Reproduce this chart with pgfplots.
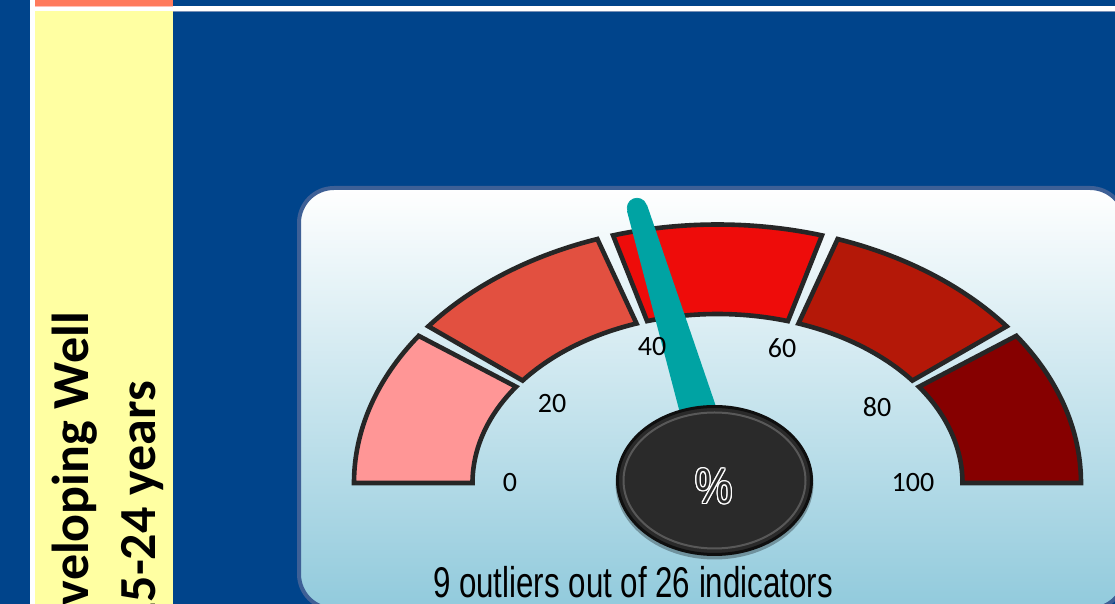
\documentclass[border=0pt]{standalone}
\usepackage{fontspec}
\usepackage{graphicx}
\usepackage{pgfplots}
\pgfplotsset{compat=1.18}
\usepackage{contour}
\newfontfamily\carlito{Carlito}
\newfontfamily\libsans{Liberation Sans}
\definecolor{bgblue}{RGB}{0,68,139}
\definecolor{salmon}{RGB}{255,122,92}
\definecolor{pinkline}{RGB}{255,190,180}
\definecolor{yellowbox}{RGB}{255,255,162}
\definecolor{panelborder}{RGB}{62,96,150}
\definecolor{panelbot}{RGB}{145,202,220}
\definecolor{segline}{RGB}{38,38,38}
\definecolor{segA}{RGB}{255,150,150}
\definecolor{segB}{RGB}{226,80,64}
\definecolor{segC}{RGB}{238,12,10}
\definecolor{segD}{RGB}{180,24,8}
\definecolor{segE}{RGB}{134,0,0}
\definecolor{needle}{RGB}{0,163,163}
\definecolor{knob}{RGB}{42,42,42}
\definecolor{knobline}{RGB}{15,15,15}
% gauge segment: #1 from value, #2 to value, #3 start gap, #4 end gap, #5 colour
\newcommand\seg[5]{%
  \filldraw[fill=#5, draw=segline, line width=2.3pt, line join=miter]
    (axis cs:717.5,121) ++({180-1.8*#1-#3}:181.75pt and 129.25pt)
    arc[start angle={180-1.8*#1-#3}, end angle={180-1.8*#2+#4}, x radius=181.75pt, y radius=129.25pt]
    -- ++({180-1.8*#2+#4}:-59.25pt and -44.75pt)
    arc[start angle={180-1.8*#2+#4}, end angle={180-1.8*#1-#3}, x radius=122.5pt, y radius=84.5pt]
    -- cycle;}
\contourlength{0.6pt}
\begin{document}
\begin{tikzpicture}
\useasboundingbox (0,0) rectangle (557.5pt,302pt);
\begin{axis}[scale only axis, width=557.5pt, height=302pt,
  xmin=0, xmax=1115, ymin=0, ymax=604, hide axis, clip=true]
% slide background
\fill[bgblue] (axis cs:-5,-5) rectangle (axis cs:1120,610);
\fill[white] (axis cs:30,-5) rectangle (axis cs:35,610);
\fill[salmon] (axis cs:35,598) rectangle (axis cs:173,610);
\fill[pinkline] (axis cs:35,597) rectangle (axis cs:173,598);
\fill[white] (axis cs:173,593) rectangle (axis cs:1120,598);
\fill[white] (axis cs:35,593) rectangle (axis cs:173,597);
\fill[panelborder!70!white] (axis cs:173,592) rectangle (axis cs:1120,593);
\fill[yellowbox] (axis cs:35,-5) rectangle (axis cs:173,593);
\node[rotate=90, anchor=base east, font=\carlito\bfseries\fontsize{26pt}{30pt}\selectfont]
  at (axis cs:88,299) {Developing Well};
\node[rotate=90, anchor=base east, font=\carlito\bfseries\fontsize{26pt}{30pt}\selectfont]
  at (axis cs:155,230) {15-24 years};
% panel
\draw[line width=2pt, draw=panelborder, rounded corners=17.5pt, top color=white, bottom color=panelbot]
  (axis cs:299,-5) rectangle (axis cs:1125,416);
% gauge bands (0-20-40-60-80-100)
\seg{0}{20}{0}{1.3}{segA}
\seg{20}{40}{1.3}{1.3}{segB}
\seg{40}{60}{1.3}{1.3}{segC}
\seg{60}{80}{1.3}{1.3}{segD}
\seg{80}{100}{1.3}{0}{segE}
% scale labels
\addplot[only marks, mark=none, nodes near coords, point meta=explicit symbolic,
  every node near coord/.style={anchor=center, font=\carlito\fontsize{14pt}{16pt}\selectfont, text=black}]
  coordinates {(510,121)[0] (552,200)[20] (652,257)[40] (782,256)[60] (877,197)[80] (913,121)[100]};
% needle
\addplot[fill=needle, draw=none] coordinates
  {(647.0,399.1) (627.0,392.9) (699.9,114.9) (740.1,127.1)} -- cycle;
\addplot[only marks, mark=*, mark size=4.9pt, mark options={fill=needle, draw=needle, line width=0.3pt}]
  coordinates {(637,396)};
% knob
\fill[black, opacity=0.3] (axis cs:714.5,120.5) ellipse[x radius=49.5pt, y radius=38pt];
\filldraw[fill=knob, draw=knobline, line width=1.5pt] (axis cs:714.5,123.5) ellipse[x radius=48.5pt, y radius=37pt];
\draw[white, opacity=0.22, line width=1pt] (axis cs:714.5,123.5) ellipse[x radius=45.5pt, y radius=34pt];
\node[anchor=center, font=\libsans\fontsize{25pt}{28pt}\selectfont] at (axis cs:714,117)
  {\scalebox{0.84}[1]{\contour{white}{\textcolor{knob}{\%}}}};
% caption
\node[anchor=base, font=\libsans\fontsize{21.5pt}{24pt}\selectfont, text=black] at (axis cs:633,6)
  {\scalebox{0.727}[1]{9 outliers out of 26 indicators}};
\end{axis}
\end{tikzpicture}
\end{document}
